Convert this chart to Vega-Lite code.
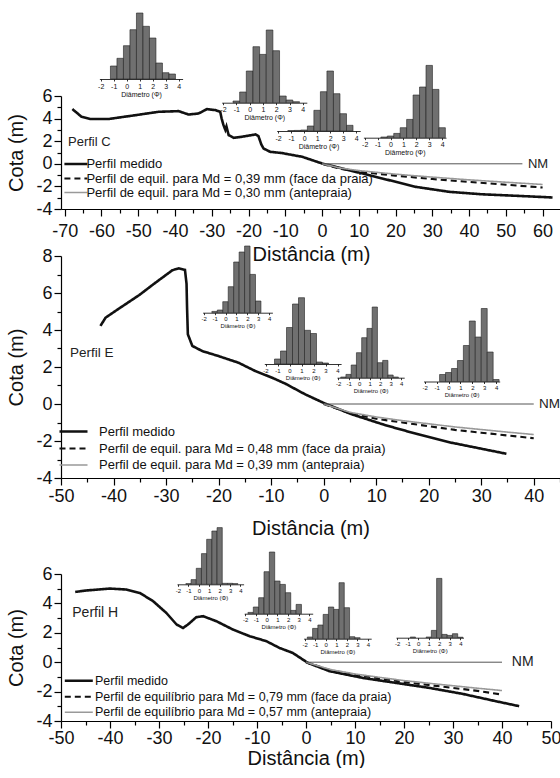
{
"$schema": "https://vega.github.io/schema/vega-lite/v6.json",
"padding": {"left": 6, "top": 12, "right": 0, "bottom": 0},
"background": "white",
"config": {"font": "Liberation Sans", "view": {"stroke": null}, "axis": {"grid": false, "domainColor": "#000", "tickColor": "#000", "labelColor": "#111", "titleColor": "#111", "titleFontWeight": "normal"}},
"spacing": 47, "bounds": "flush",
"resolve": {"scale": {"color": "independent", "strokeDash": "independent", "strokeWidth": "independent"}},
"datasets": {
"pC": [
{"s":"m","d":-67.9,"z":4.84},{"s":"m","d":-65.4,"z":4.16},{"s":"m","d":-63.1,"z":3.96},{"s":"m","d":-58.1,"z":3.96},{"s":"m","d":-50.8,"z":4.3},{"s":"m","d":-44.5,"z":4.6},{"s":"m","d":-39,"z":4.66},{"s":"m","d":-36.3,"z":4.36},{"s":"m","d":-33.6,"z":4.45},{"s":"m","d":-31.3,"z":4.84},{"s":"m","d":-29.0,"z":4.75},{"s":"m","d":-27.7,"z":4.6},{"s":"m","d":-27.3,"z":4.0},{"s":"m","d":-26.8,"z":3.42},{"s":"m","d":-26.3,"z":3.0},{"s":"m","d":-26.0,"z":3.3},{"s":"m","d":-25.4,"z":2.54},{"s":"m","d":-24.0,"z":2.3},{"s":"m","d":-21.8,"z":2.39},{"s":"m","d":-18.1,"z":2.6},{"s":"m","d":-17.3,"z":2.45},{"s":"m","d":-16.5,"z":1.7},{"s":"m","d":-15.9,"z":1.35},{"s":"m","d":-14.1,"z":1.06},{"s":"m","d":-10.9,"z":0.95},{"s":"m","d":-5.4,"z":0.62},{"s":"m","d":0,"z":0.03},{"s":"m","d":7.3,"z":-0.56},{"s":"m","d":16.4,"z":-1.3},{"s":"m","d":25.5,"z":-2.04},{"s":"m","d":34.6,"z":-2.48},{"s":"m","d":43.6,"z":-2.7},{"s":"m","d":52.7,"z":-2.83},{"s":"m","d":62.7,"z":-2.98},
{"s":"f","d":0,"z":0},{"s":"f","d":5,"z":-0.45},{"s":"f","d":10,"z":-0.7},{"s":"f","d":20,"z":-1.05},{"s":"f","d":30,"z":-1.35},{"s":"f","d":40,"z":-1.6},{"s":"f","d":50,"z":-1.85},{"s":"f","d":60,"z":-2.1},
{"s":"a","d":0,"z":0},{"s":"a","d":5,"z":-0.38},{"s":"a","d":10,"z":-0.6},{"s":"a","d":20,"z":-0.92},{"s":"a","d":30,"z":-1.18},{"s":"a","d":40,"z":-1.42},{"s":"a","d":50,"z":-1.63},{"s":"a","d":60,"z":-1.83}
],
"pE": [
{"s":"m","d":-42.5,"z":4.22},{"s":"m","d":-41.5,"z":4.67},{"s":"m","d":-38.9,"z":5.17},{"s":"m","d":-35.1,"z":5.89},{"s":"m","d":-32.0,"z":6.56},{"s":"m","d":-28.8,"z":7.23},{"s":"m","d":-27.6,"z":7.33},{"s":"m","d":-26.4,"z":7.25},{"s":"m","d":-26.1,"z":6.5},{"s":"m","d":-26.0,"z":5.2},{"s":"m","d":-25.85,"z":3.77},{"s":"m","d":-25.0,"z":3.14},{"s":"m","d":-23.1,"z":2.86},{"s":"m","d":-20,"z":2.59},{"s":"m","d":-16.2,"z":2.23},{"s":"m","d":-13,"z":1.78},{"s":"m","d":-9.8,"z":1.42},{"s":"m","d":-7.3,"z":1.1},{"s":"m","d":-3.5,"z":0.52},{"s":"m","d":0.3,"z":0.02},{"s":"m","d":5.4,"z":-0.56},{"s":"m","d":11.7,"z":-1.14},{"s":"m","d":18,"z":-1.64},{"s":"m","d":24.3,"z":-2.09},{"s":"m","d":30.6,"z":-2.45},{"s":"m","d":34.8,"z":-2.69},
{"s":"f","d":0,"z":0},{"s":"f","d":5,"z":-0.5},{"s":"f","d":10,"z":-0.8},{"s":"f","d":15,"z":-1.0},{"s":"f","d":20,"z":-1.2},{"s":"f","d":25,"z":-1.4},{"s":"f","d":30,"z":-1.55},{"s":"f","d":35,"z":-1.7},{"s":"f","d":40,"z":-1.85},
{"s":"a","d":0,"z":0},{"s":"a","d":5,"z":-0.45},{"s":"a","d":10,"z":-0.7},{"s":"a","d":15,"z":-0.9},{"s":"a","d":20,"z":-1.07},{"s":"a","d":25,"z":-1.24},{"s":"a","d":30,"z":-1.38},{"s":"a","d":35,"z":-1.52},{"s":"a","d":40,"z":-1.65}
],
"pH": [
{"s":"m","d":-47.1,"z":4.78},{"s":"m","d":-44.8,"z":4.88},{"s":"m","d":-40.0,"z":5.01},{"s":"m","d":-36.6,"z":4.94},{"s":"m","d":-33.9,"z":4.71},{"s":"m","d":-31.2,"z":4.15},{"s":"m","d":-28.5,"z":3.35},{"s":"m","d":-26.4,"z":2.56},{"s":"m","d":-25.1,"z":2.33},{"s":"m","d":-24.1,"z":2.56},{"s":"m","d":-22.4,"z":3.06},{"s":"m","d":-21,"z":3.13},{"s":"m","d":-18.3,"z":2.79},{"s":"m","d":-14.9,"z":2.22},{"s":"m","d":-11.5,"z":1.77},{"s":"m","d":-8.1,"z":1.43},{"s":"m","d":-5.4,"z":0.97},{"s":"m","d":-2.7,"z":0.63},{"s":"m","d":0.4,"z":-0.05},{"s":"m","d":4.8,"z":-0.61},{"s":"m","d":11.6,"z":-1.07},{"s":"m","d":18.4,"z":-1.41},{"s":"m","d":25.2,"z":-1.75},{"s":"m","d":31.9,"z":-2.15},{"s":"m","d":38.7,"z":-2.65},{"s":"m","d":43.5,"z":-2.99},
{"s":"f","d":0,"z":0},{"s":"f","d":5,"z":-0.55},{"s":"f","d":10,"z":-0.85},{"s":"f","d":15,"z":-1.1},{"s":"f","d":20,"z":-1.35},{"s":"f","d":25,"z":-1.55},{"s":"f","d":30,"z":-1.75},{"s":"f","d":35,"z":-1.95},{"s":"f","d":40,"z":-2.2},
{"s":"a","d":0,"z":0},{"s":"a","d":5,"z":-0.5},{"s":"a","d":10,"z":-0.8},{"s":"a","d":15,"z":-1.03},{"s":"a","d":20,"z":-1.25},{"s":"a","d":25,"z":-1.43},{"s":"a","d":30,"z":-1.6},{"s":"a","d":35,"z":-1.77},{"s":"a","d":40,"z":-1.93}
],
"nmC": [{"d":0,"d2":54.5,"z":0}],
"nmE": [{"d":0,"d2":40,"z":0}],
"nmH": [{"d":0,"d2":40,"z":0}],
"tC": [{"d":56,"z":0,"t":"NM"},{"d":-69.1,"z":1.95,"t":"Perfil C"}],
"tE": [{"d":41,"z":0,"t":"NM"},{"d":-48.3,"z":2.77,"t":"Perfil E"}],
"tH": [{"d":42,"z":0,"t":"NM"},{"d":-47.7,"z":3.35,"t":"Perfil H"}],
"hC1": [{"p0":-1.25,"p1":-0.75,"f":13},{"p0":-0.75,"p1":-0.25,"f":20.7},{"p0":-0.25,"p1":0.25,"f":33.3},{"p0":0.25,"p1":0.75,"f":49.3},{"p0":0.75,"p1":1.25,"f":66},{"p0":1.25,"p1":1.75,"f":52.7},{"p0":1.75,"p1":2.25,"f":41},{"p0":2.25,"p1":2.75,"f":16},{"p0":2.75,"p1":3.25,"f":6.3},{"p0":3.25,"p1":3.75,"f":5}],
"hC2": [{"p0":-1.25,"p1":-0.75,"f":1.7},{"p0":-0.75,"p1":-0.25,"f":10.7},{"p0":-0.25,"p1":0.25,"f":31.7},{"p0":0.25,"p1":0.75,"f":56},{"p0":0.75,"p1":1.25,"f":48.3},{"p0":1.25,"p1":1.75,"f":72.7},{"p0":1.75,"p1":2.25,"f":52},{"p0":2.25,"p1":2.75,"f":6.7},{"p0":2.75,"p1":3.25,"f":2.7},{"p0":3.25,"p1":3.75,"f":1}],
"hC3": [{"p0":-1.25,"p1":-0.75,"f":0.4},{"p0":-0.75,"p1":-0.25,"f":0.6},{"p0":-0.25,"p1":0.25,"f":1},{"p0":0.25,"p1":0.75,"f":5},{"p0":0.75,"p1":1.25,"f":20.7},{"p0":1.25,"p1":1.75,"f":39.3},{"p0":1.75,"p1":2.25,"f":60},{"p0":2.25,"p1":2.75,"f":37.3},{"p0":2.75,"p1":3.25,"f":17.3},{"p0":3.25,"p1":3.75,"f":5.7}],
"hC4": [{"p0":-0.75,"p1":-0.25,"f":0.7},{"p0":-0.25,"p1":0.25,"f":1.7},{"p0":0.25,"p1":0.75,"f":4.3},{"p0":0.75,"p1":1.25,"f":10},{"p0":1.25,"p1":1.75,"f":18.3},{"p0":1.75,"p1":2.25,"f":42.7},{"p0":2.25,"p1":2.75,"f":50.7},{"p0":2.75,"p1":3.25,"f":72.3},{"p0":3.25,"p1":3.75,"f":48.3},{"p0":3.75,"p1":4.25,"f":10}],
"hE1": [{"p0":-1.25,"p1":-0.75,"f":1.3},{"p0":-0.75,"p1":-0.25,"f":2.7},{"p0":-0.25,"p1":0.25,"f":11},{"p0":0.25,"p1":0.75,"f":26},{"p0":0.75,"p1":1.25,"f":50.7},{"p0":1.25,"p1":1.75,"f":60.7},{"p0":1.75,"p1":2.25,"f":66.7},{"p0":2.25,"p1":2.75,"f":38.3},{"p0":2.75,"p1":3.25,"f":11.7}],
"hE2": [{"p0":-1.25,"p1":-0.75,"f":5},{"p0":-0.75,"p1":-0.25,"f":13},{"p0":-0.25,"p1":0.25,"f":36.5},{"p0":0.25,"p1":0.75,"f":60},{"p0":0.75,"p1":1.25,"f":66.3},{"p0":1.25,"p1":1.75,"f":33.7},{"p0":1.75,"p1":2.25,"f":30.5},{"p0":2.25,"p1":2.75,"f":2},{"p0":2.75,"p1":3.25,"f":1}],
"hE3": [{"p0":-1.75,"p1":-1.25,"f":0.7},{"p0":-1.25,"p1":-0.75,"f":3.3},{"p0":-0.75,"p1":-0.25,"f":12.7},{"p0":-0.25,"p1":0.25,"f":25},{"p0":0.25,"p1":0.75,"f":40},{"p0":0.75,"p1":1.25,"f":49.3},{"p0":1.25,"p1":1.75,"f":70.7},{"p0":1.75,"p1":2.25,"f":15},{"p0":2.25,"p1":2.75,"f":17.3},{"p0":2.75,"p1":3.25,"f":2.7},{"p0":3.25,"p1":3.75,"f":0.7}],
"hE4": [{"p0":-0.75,"p1":-0.25,"f":7},{"p0":-0.25,"p1":0.25,"f":9},{"p0":0.25,"p1":0.75,"f":13},{"p0":0.75,"p1":1.25,"f":21},{"p0":1.25,"p1":1.75,"f":36},{"p0":1.75,"p1":2.25,"f":60.5},{"p0":2.25,"p1":2.75,"f":44.5},{"p0":2.75,"p1":3.25,"f":73},{"p0":3.25,"p1":3.75,"f":29.5},{"p0":3.75,"p1":4.25,"f":2}],
"hH1": [{"p0":-1.25,"p1":-0.75,"f":0.7},{"p0":-0.75,"p1":-0.25,"f":4.7},{"p0":-0.25,"p1":0.25,"f":16},{"p0":0.25,"p1":0.75,"f":30.7},{"p0":0.75,"p1":1.25,"f":45},{"p0":1.25,"p1":1.75,"f":53.3},{"p0":1.75,"p1":2.25,"f":56.7},{"p0":2.25,"p1":2.75,"f":1},{"p0":2.75,"p1":3.25,"f":1},{"p0":3.25,"p1":3.75,"f":0.7}],
"hH2": [{"p0":-1.75,"p1":-1.25,"f":1.3},{"p0":-1.25,"p1":-0.75,"f":6.7},{"p0":-0.75,"p1":-0.25,"f":16},{"p0":-0.25,"p1":0.25,"f":42},{"p0":0.25,"p1":0.75,"f":61.7},{"p0":0.75,"p1":1.25,"f":32.7},{"p0":1.25,"p1":1.75,"f":29.3},{"p0":1.75,"p1":2.25,"f":21},{"p0":2.25,"p1":2.75,"f":3.3},{"p0":2.75,"p1":3.25,"f":9.3}],
"hH3": [{"p0":-1.75,"p1":-1.25,"f":1.7},{"p0":-1.25,"p1":-0.75,"f":10.3},{"p0":-0.75,"p1":-0.25,"f":13.7},{"p0":-0.25,"p1":0.25,"f":24.3},{"p0":0.25,"p1":0.75,"f":31.7},{"p0":0.75,"p1":1.25,"f":29.3},{"p0":1.25,"p1":1.75,"f":56},{"p0":1.75,"p1":2.25,"f":31},{"p0":2.25,"p1":2.75,"f":2},{"p0":2.75,"p1":3.25,"f":1}],
"hH4": [{"p0":-0.75,"p1":-0.25,"f":0.7},{"p0":0.75,"p1":1.25,"f":0.7},{"p0":1.25,"p1":1.75,"f":7.3},{"p0":1.75,"p1":2.25,"f":59.3},{"p0":2.25,"p1":2.75,"f":3.3},{"p0":2.75,"p1":3.25,"f":2.3},{"p0":3.25,"p1":3.75,"f":4},{"p0":3.75,"p1":4.25,"f":0.5}],
"empty": [{"t":""}]
},
"vconcat": [
{
"width": 500, "height": 113,
"resolve": {"scale": {"x": "independent", "y": "independent"}, "axis": {"x": "independent", "y": "independent"}},
"layer": [
{"encoding": {
"x": {"field": "d", "type": "quantitative", "scale": {"domain": [-71, 65]}, "axis": {"title": "Distância (m)", "values": [-70,-65,-60,-55,-50,-45,-40,-35,-30,-25,-20,-15,-10,-5,0,5,10,15,20,25,30,35,40,45,50,55,60,65], "labelExpr": "datum.value % 10 === 0 ? '' + datum.value : ''", "tickSize": {"condition": {"test": "datum.value % 10 === 0", "value": 7}, "value": 4}, "labelFontSize": 18, "titleFontSize": 20, "labelPadding": 6, "titlePadding": 4, "labelFlush": false, "labelOverlap": false, "domainWidth": 1.2, "tickWidth": 1.2}},
"y": {"field": "z", "type": "quantitative", "scale": {"domain": [-4, 6]}, "axis": {"title": "Cota (m)", "values": [-4,-3,-2,-1,0,1,2,3,4,5,6], "labelExpr": "datum.value % 2 === 0 ? '' + datum.value : ''", "tickSize": {"condition": {"test": "datum.value % 2 === 0", "value": 7}, "value": 4}, "labelFontSize": 18, "titleFontSize": 20, "labelPadding": 2, "titlePadding": 9, "labelFlush": false, "labelOverlap": false, "domainWidth": 1.2, "tickWidth": 1.2}}},
"layer": [
{"data": {"name": "pC"}, "mark": {"type": "line"}, "encoding": {
"color": {"field": "s", "type": "nominal", "scale": {"domain": ["m","f","a"], "range": ["#111","#111","#999"]}, "legend": {"orient": "none", "legendX": 7.4, "legendY": 60.5, "title": null, "symbolType": "M-2,0H2", "symbolSize": 132, "labelFontSize": 13, "labelOffset": 3, "rowPadding": 0, "padding": 0, "labelLimit": 500, "labelColor": "#111", "labelExpr": "datum.label == 'm' ? 'Perfil medido' : datum.label == 'f' ? 'Perfil de equil. para Md = 0,39 mm (face da praia)' : 'Perfil de equil. para Md = 0,30 mm (antepraia)'"}},
"strokeDash": {"field": "s", "type": "nominal", "scale": {"domain": ["m","f","a"], "range": [[1,0],[6,4],[1,0]]}},
"strokeWidth": {"field": "s", "type": "nominal", "scale": {"domain": ["m","f","a"], "range": [2.6,1.6,1.2]}}}},
{"data": {"name": "nmC"}, "mark": {"type": "rule", "color": "#555", "strokeWidth": 1}, "encoding": {"x2": {"field": "d2"}}},
{"data": {"name": "tC"}, "mark": {"type": "text", "align": "left", "baseline": "middle", "fontSize": 13, "color": "#222"}, "encoding": {"text": {"field": "t"}}}
]},
{"data": {"name": "hC1"}, "mark": {"type": "bar", "fill": "#707070", "stroke": "#222", "strokeWidth": 0.6}, "encoding": {"x": {"field": "p0", "type": "quantitative", "scale": {"domain": [-2.1, 4.3], "range": [38.4, 121.6]}, "axis": {"orient": "bottom", "offset": -130, "values": [-2,-1,0,1,2,3,4], "labelExpr": "'' + datum.value", "title": "Diâmetro (Φ)", "labelFontSize": 7, "titleFontSize": 7, "tickSize": 2, "labelPadding": 1, "titlePadding": 1, "labelFlush": false, "labelOverlap": false, "domainWidth": 0.8, "tickWidth": 0.8}}, "x2": {"field": "p1"}, "y": {"field": "f", "type": "quantitative", "scale": {"domain": [0, 100], "range": [-17, -117]}, "axis": null}, "y2": {"datum": 0}}},
{"data": {"name": "hC2"}, "mark": {"type": "bar", "fill": "#707070", "stroke": "#222", "strokeWidth": 0.6}, "encoding": {"x": {"field": "p0", "type": "quantitative", "scale": {"domain": [-2.1, 4.3], "range": [160.7, 245.8]}, "axis": {"orient": "bottom", "offset": -106.3, "values": [-2,-1,0,1,2,3,4], "labelExpr": "'' + datum.value", "title": "Diâmetro (Φ)", "labelFontSize": 7, "titleFontSize": 7, "tickSize": 2, "labelPadding": 1, "titlePadding": 1, "labelFlush": false, "labelOverlap": false, "domainWidth": 0.8, "tickWidth": 0.8}}, "x2": {"field": "p1"}, "y": {"field": "f", "type": "quantitative", "scale": {"domain": [0, 100], "range": [6.7, -93.3]}, "axis": null}, "y2": {"datum": 0}}},
{"data": {"name": "hC3"}, "mark": {"type": "bar", "fill": "#707070", "stroke": "#222", "strokeWidth": 0.6}, "encoding": {"x": {"field": "p0", "type": "quantitative", "scale": {"domain": [-2.1, 4.3], "range": [215.7, 299.2]}, "axis": {"orient": "bottom", "offset": -78, "values": [-2,-1,0,1,2,3,4], "labelExpr": "'' + datum.value", "title": "Diâmetro (Φ)", "labelFontSize": 7, "titleFontSize": 7, "tickSize": 2, "labelPadding": 1, "titlePadding": 1, "labelFlush": false, "labelOverlap": false, "domainWidth": 0.8, "tickWidth": 0.8}}, "x2": {"field": "p1"}, "y": {"field": "f", "type": "quantitative", "scale": {"domain": [0, 100], "range": [35, -65]}, "axis": null}, "y2": {"datum": 0}}},
{"data": {"name": "hC4"}, "mark": {"type": "bar", "fill": "#707070", "stroke": "#222", "strokeWidth": 0.6}, "encoding": {"x": {"field": "p0", "type": "quantitative", "scale": {"domain": [-2.1, 4.3], "range": [302.4, 385]}, "axis": {"orient": "bottom", "offset": -71.3, "values": [-2,-1,0,1,2,3,4], "labelExpr": "'' + datum.value", "title": "Diâmetro (Φ)", "labelFontSize": 7, "titleFontSize": 7, "tickSize": 2, "labelPadding": 1, "titlePadding": 1, "labelFlush": false, "labelOverlap": false, "domainWidth": 0.8, "tickWidth": 0.8}}, "x2": {"field": "p1"}, "y": {"field": "f", "type": "quantitative", "scale": {"domain": [0, 100], "range": [41.7, -58.3]}, "axis": null}, "y2": {"datum": 0}}}
]
},
{
"width": 499, "height": 222,
"resolve": {"scale": {"x": "independent", "y": "independent"}, "axis": {"x": "independent", "y": "independent"}},
"layer": [
{"encoding": {
"x": {"field": "d", "type": "quantitative", "scale": {"domain": [-50, 45]}, "axis": {"title": "Distância (m)", "values": [-50,-45,-40,-35,-30,-25,-20,-15,-10,-5,0,5,10,15,20,25,30,35,40,45], "labelExpr": "datum.value % 10 === 0 ? '' + datum.value : ''", "tickSize": {"condition": {"test": "datum.value % 10 === 0", "value": 7}, "value": 4}, "labelFontSize": 18, "titleFontSize": 20, "labelPadding": 2, "titlePadding": 13, "labelFlush": false, "labelOverlap": false, "domainWidth": 1.2, "tickWidth": 1.2}},
"y": {"field": "z", "type": "quantitative", "scale": {"domain": [-4, 8]}, "axis": {"title": "Cota (m)", "values": [-4,-3,-2,-1,0,1,2,3,4,5,6,7,8], "labelExpr": "datum.value % 2 === 0 ? '' + datum.value : ''", "tickSize": {"condition": {"test": "datum.value % 2 === 0", "value": 7}, "value": 4}, "labelFontSize": 18, "titleFontSize": 20, "labelPadding": 2, "titlePadding": 9, "labelFlush": false, "labelOverlap": false, "domainWidth": 1.2, "tickWidth": 1.2}}},
"layer": [
{"data": {"name": "pE"}, "mark": {"type": "line"}, "encoding": {
"color": {"field": "s", "type": "nominal", "scale": {"domain": ["m","f","a"], "range": ["#111","#111","#999"]}, "legend": {"orient": "none", "legendX": 4, "legendY": 167, "title": null, "symbolType": "M-2,0H2", "symbolSize": 196, "labelFontSize": 13, "labelOffset": 17, "rowPadding": 1, "padding": 0, "labelLimit": 500, "labelColor": "#111", "labelExpr": "datum.label == 'm' ? 'Perfil medido' : datum.label == 'f' ? 'Perfil de equil. para Md = 0,48 mm (face da praia)' : 'Perfil de equil. para Md = 0,39 mm (antepraia)'"}},
"strokeDash": {"field": "s", "type": "nominal", "scale": {"domain": ["m","f","a"], "range": [[1,0],[6,4],[1,0]]}},
"strokeWidth": {"field": "s", "type": "nominal", "scale": {"domain": ["m","f","a"], "range": [2.6,1.6,1.2]}}}},
{"data": {"name": "nmE"}, "mark": {"type": "rule", "color": "#555", "strokeWidth": 1}, "encoding": {"x2": {"field": "d2"}}},
{"data": {"name": "tE"}, "mark": {"type": "text", "align": "left", "baseline": "middle", "fontSize": 13.5, "color": "#222"}, "encoding": {"text": {"field": "t"}}}
]},
{"data": {"name": "hE1"}, "mark": {"type": "bar", "fill": "#707070", "stroke": "#222", "strokeWidth": 0.6}, "encoding": {"x": {"field": "p0", "type": "quantitative", "scale": {"domain": [-2.1, 4.3], "range": [141.6, 211.4]}, "axis": {"orient": "bottom", "offset": -165.3, "values": [-2,-1,0,1,2,3,4], "labelExpr": "'' + datum.value", "title": "Diâmetro (Φ)", "labelFontSize": 6, "titleFontSize": 6, "tickSize": 2, "labelPadding": 1, "titlePadding": 1, "labelFlush": false, "labelOverlap": false, "domainWidth": 0.8, "tickWidth": 0.8}}, "x2": {"field": "p1"}, "y": {"field": "f", "type": "quantitative", "scale": {"domain": [0, 100], "range": [56.7, -43.3]}, "axis": null}, "y2": {"datum": 0}}},
{"data": {"name": "hE2"}, "mark": {"type": "bar", "fill": "#707070", "stroke": "#222", "strokeWidth": 0.6}, "encoding": {"x": {"field": "p0", "type": "quantitative", "scale": {"domain": [-2.1, 4.3], "range": [203.3, 280.1]}, "axis": {"orient": "bottom", "offset": -114, "values": [-2,-1,0,1,2,3,4], "labelExpr": "'' + datum.value", "title": "Diâmetro (Φ)", "labelFontSize": 6, "titleFontSize": 6, "tickSize": 2, "labelPadding": 1, "titlePadding": 1, "labelFlush": false, "labelOverlap": false, "domainWidth": 0.8, "tickWidth": 0.8}}, "x2": {"field": "p1"}, "y": {"field": "f", "type": "quantitative", "scale": {"domain": [0, 100], "range": [108, 8]}, "axis": null}, "y2": {"datum": 0}}},
{"data": {"name": "hE3"}, "mark": {"type": "bar", "fill": "#707070", "stroke": "#222", "strokeWidth": 0.6}, "encoding": {"x": {"field": "p0", "type": "quantitative", "scale": {"domain": [-2.1, 4.3], "range": [276, 343.2]}, "axis": {"orient": "bottom", "offset": -100.3, "values": [-2,-1,0,1,2,3,4], "labelExpr": "'' + datum.value", "title": "Diâmetro (Φ)", "labelFontSize": 6, "titleFontSize": 6, "tickSize": 2, "labelPadding": 1, "titlePadding": 1, "labelFlush": false, "labelOverlap": false, "domainWidth": 0.8, "tickWidth": 0.8}}, "x2": {"field": "p1"}, "y": {"field": "f", "type": "quantitative", "scale": {"domain": [0, 100], "range": [121.7, 21.7]}, "axis": null}, "y2": {"datum": 0}}},
{"data": {"name": "hE4"}, "mark": {"type": "bar", "fill": "#707070", "stroke": "#222", "strokeWidth": 0.6}, "encoding": {"x": {"field": "p0", "type": "quantitative", "scale": {"domain": [-2.1, 4.3], "range": [362.5, 438.7]}, "axis": {"orient": "bottom", "offset": -96.5, "values": [-2,-1,0,1,2,3,4], "labelExpr": "'' + datum.value", "title": "Diâmetro (Φ)", "labelFontSize": 6, "titleFontSize": 6, "tickSize": 2, "labelPadding": 1, "titlePadding": 1, "labelFlush": false, "labelOverlap": false, "domainWidth": 0.8, "tickWidth": 0.8}}, "x2": {"field": "p1"}, "y": {"field": "f", "type": "quantitative", "scale": {"domain": [0, 100], "range": [125.5, 25.5]}, "axis": null}, "y2": {"datum": 0}}}
]
},
{
"width": 10, "height": 2,
"data": {"name": "empty"},
"mark": {"type": "text"},
"encoding": {"text": {"field": "t"}}
},
{
"width": 490, "height": 147,
"resolve": {"scale": {"x": "independent", "y": "independent"}, "axis": {"x": "independent", "y": "independent"}},
"layer": [
{"encoding": {
"x": {"field": "d", "type": "quantitative", "scale": {"domain": [-50, 50]}, "axis": {"title": "Distância (m)", "values": [-50,-45,-40,-35,-30,-25,-20,-15,-10,-5,0,5,10,15,20,25,30,35,40,45,50], "labelExpr": "datum.value % 10 === 0 ? '' + datum.value : ''", "tickSize": {"condition": {"test": "datum.value % 10 === 0", "value": 7}, "value": 4}, "labelFontSize": 18, "titleFontSize": 20, "labelPadding": 1, "titlePadding": 1, "labelFlush": false, "labelOverlap": false, "domainWidth": 1.2, "tickWidth": 1.2}},
"y": {"field": "z", "type": "quantitative", "scale": {"domain": [-4, 6]}, "axis": {"title": "Cota (m)", "values": [-4,-3,-2,-1,0,1,2,3,4,5,6], "labelExpr": "datum.value % 2 === 0 ? '' + datum.value : ''", "tickSize": {"condition": {"test": "datum.value % 2 === 0", "value": 7}, "value": 4}, "labelFontSize": 18, "titleFontSize": 20, "labelPadding": 2, "titlePadding": 9, "labelFlush": false, "labelOverlap": false, "domainWidth": 1.2, "tickWidth": 1.2}}},
"layer": [
{"data": {"name": "pH"}, "mark": {"type": "line"}, "encoding": {
"color": {"field": "s", "type": "nominal", "scale": {"domain": ["m","f","a"], "range": ["#111","#111","#999"]}, "legend": {"orient": "none", "legendX": 9.3, "legendY": 98.3, "title": null, "symbolType": "M-2,0H2", "symbolSize": 196, "labelFontSize": 12.5, "labelOffset": 7.7, "rowPadding": 1, "padding": 0, "labelLimit": 500, "labelColor": "#111", "labelExpr": "datum.label == 'm' ? 'Perfil medido' : datum.label == 'f' ? 'Perfil de equilíbrio para Md = 0,79 mm (face da praia)' : 'Perfil de equilíbrio para Md = 0,57 mm (antepraia)'"}},
"strokeDash": {"field": "s", "type": "nominal", "scale": {"domain": ["m","f","a"], "range": [[1,0],[6,4],[1,0]]}},
"strokeWidth": {"field": "s", "type": "nominal", "scale": {"domain": ["m","f","a"], "range": [2.6,1.6,1.2]}}}},
{"data": {"name": "nmH"}, "mark": {"type": "rule", "color": "#555", "strokeWidth": 1}, "encoding": {"x2": {"field": "d2"}}},
{"data": {"name": "tH"}, "mark": {"type": "text", "align": "left", "baseline": "middle", "fontSize": 14, "color": "#222"}, "encoding": {"text": {"field": "t"}}}
]},
{"data": {"name": "hH1"}, "mark": {"type": "bar", "fill": "#707070", "stroke": "#222", "strokeWidth": 0.6}, "encoding": {"x": {"field": "p0", "type": "quantitative", "scale": {"domain": [-2.1, 4.3], "range": [116, 182.6]}, "axis": {"orient": "bottom", "offset": -136.7, "values": [-2,-1,0,1,2,3,4], "labelExpr": "'' + datum.value", "title": "Diâmetro (Φ)", "labelFontSize": 6, "titleFontSize": 6, "tickSize": 2, "labelPadding": 1, "titlePadding": 1, "labelFlush": false, "labelOverlap": false, "domainWidth": 0.8, "tickWidth": 0.8}}, "x2": {"field": "p1"}, "y": {"field": "f", "type": "quantitative", "scale": {"domain": [0, 100], "range": [10.3, -89.7]}, "axis": null}, "y2": {"datum": 0}}},
{"data": {"name": "hH2"}, "mark": {"type": "bar", "fill": "#707070", "stroke": "#222", "strokeWidth": 0.6}, "encoding": {"x": {"field": "p0", "type": "quantitative", "scale": {"domain": [-2.1, 4.3], "range": [183.2, 251.7]}, "axis": {"orient": "bottom", "offset": -107.3, "values": [-2,-1,0,1,2,3,4], "labelExpr": "'' + datum.value", "title": "Diâmetro (Φ)", "labelFontSize": 6, "titleFontSize": 6, "tickSize": 2, "labelPadding": 1, "titlePadding": 1, "labelFlush": false, "labelOverlap": false, "domainWidth": 0.8, "tickWidth": 0.8}}, "x2": {"field": "p1"}, "y": {"field": "f", "type": "quantitative", "scale": {"domain": [0, 100], "range": [39.7, -60.3]}, "axis": null}, "y2": {"datum": 0}}},
{"data": {"name": "hH3"}, "mark": {"type": "bar", "fill": "#707070", "stroke": "#222", "strokeWidth": 0.6}, "encoding": {"x": {"field": "p0", "type": "quantitative", "scale": {"domain": [-2.1, 4.3], "range": [242.6, 310.2]}, "axis": {"orient": "bottom", "offset": -82.3, "values": [-2,-1,0,1,2,3,4], "labelExpr": "'' + datum.value", "title": "Diâmetro (Φ)", "labelFontSize": 6, "titleFontSize": 6, "tickSize": 2, "labelPadding": 1, "titlePadding": 1, "labelFlush": false, "labelOverlap": false, "domainWidth": 0.8, "tickWidth": 0.8}}, "x2": {"field": "p1"}, "y": {"field": "f", "type": "quantitative", "scale": {"domain": [0, 100], "range": [64.7, -35.3]}, "axis": null}, "y2": {"datum": 0}}},
{"data": {"name": "hH4"}, "mark": {"type": "bar", "fill": "#707070", "stroke": "#222", "strokeWidth": 0.6}, "encoding": {"x": {"field": "p0", "type": "quantitative", "scale": {"domain": [-2.1, 4.3], "range": [335, 402.5]}, "axis": {"orient": "bottom", "offset": -83.3, "values": [-2,-1,0,1,2,3,4], "labelExpr": "'' + datum.value", "title": "Diâmetro (Φ)", "labelFontSize": 6, "titleFontSize": 6, "tickSize": 2, "labelPadding": 1, "titlePadding": 1, "labelFlush": false, "labelOverlap": false, "domainWidth": 0.8, "tickWidth": 0.8}}, "x2": {"field": "p1"}, "y": {"field": "f", "type": "quantitative", "scale": {"domain": [0, 100], "range": [63.7, -36.3]}, "axis": null}, "y2": {"datum": 0}}}
]
}
]
}
